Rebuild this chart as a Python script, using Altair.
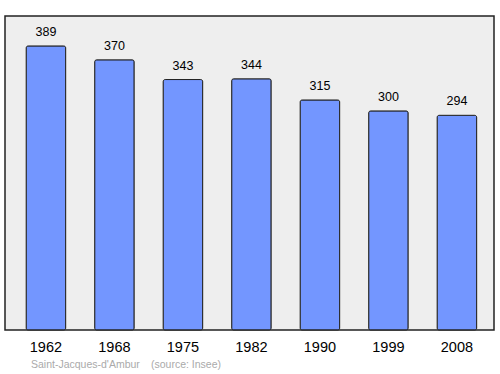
import altair as alt
import pandas as pd

years = ["1962", "1968", "1975", "1982", "1990", "1999", "2008"]
population = [389, 370, 343, 344, 315, 300, 294]
source_parts = ["Saint-Jacques-d'Ambur", "(source: Insee)"]

df = pd.DataFrame({"year": years, "pop": population})

FONT = "Liberation Sans"

x = alt.X("year:N", sort=years, title=None,
          scale=alt.Scale(paddingInner=0.423, paddingOuter=0.281, align=0.55),
          axis=alt.Axis(labelAngle=0, labelFontSize=14.5, labelFont=FONT,
                        labelColor="#000000", ticks=False, domain=False,
                        labelPadding=10))
y = alt.Y("pop:Q", title=None, scale=alt.Scale(domain=[0, 430]), axis=None)

bars = alt.Chart(df).mark_bar(
    color="#7396ff", stroke="#222222", strokeWidth=1, cornerRadius=2
).encode(x=x, y=y)

labels = alt.Chart(df).mark_text(
    baseline="bottom", dy=-7, fontSize=12.5, font=FONT, color="#000000"
).encode(x=x, y=y, text="pop:Q")

src1 = alt.Chart(pd.DataFrame({"t": [source_parts[0]]})).mark_text(
    align="left", baseline="middle", fontSize=10.5, font=FONT, color="#aaaaaa"
).encode(x=alt.value(26), y=alt.value(349), text="t:N")

src2 = alt.Chart(pd.DataFrame({"t": [source_parts[1]]})).mark_text(
    align="left", baseline="middle", fontSize=10.5, font=FONT, color="#aaaaaa"
).encode(x=alt.value(146), y=alt.value(349), text="t:N")

chart = (bars + labels + src1 + src2).properties(
    width=489, height=314,
    autosize=alt.AutoSizeParams(type="none"),
    padding={"left": 5, "top": 16, "right": 6, "bottom": 44},
    background="#ffffff",
).configure_view(
    fill="#eeeeee", stroke="#222222", strokeWidth=1.5
)

chart.save("out.html", embed_options={"renderer": "svg", "actions": False})
